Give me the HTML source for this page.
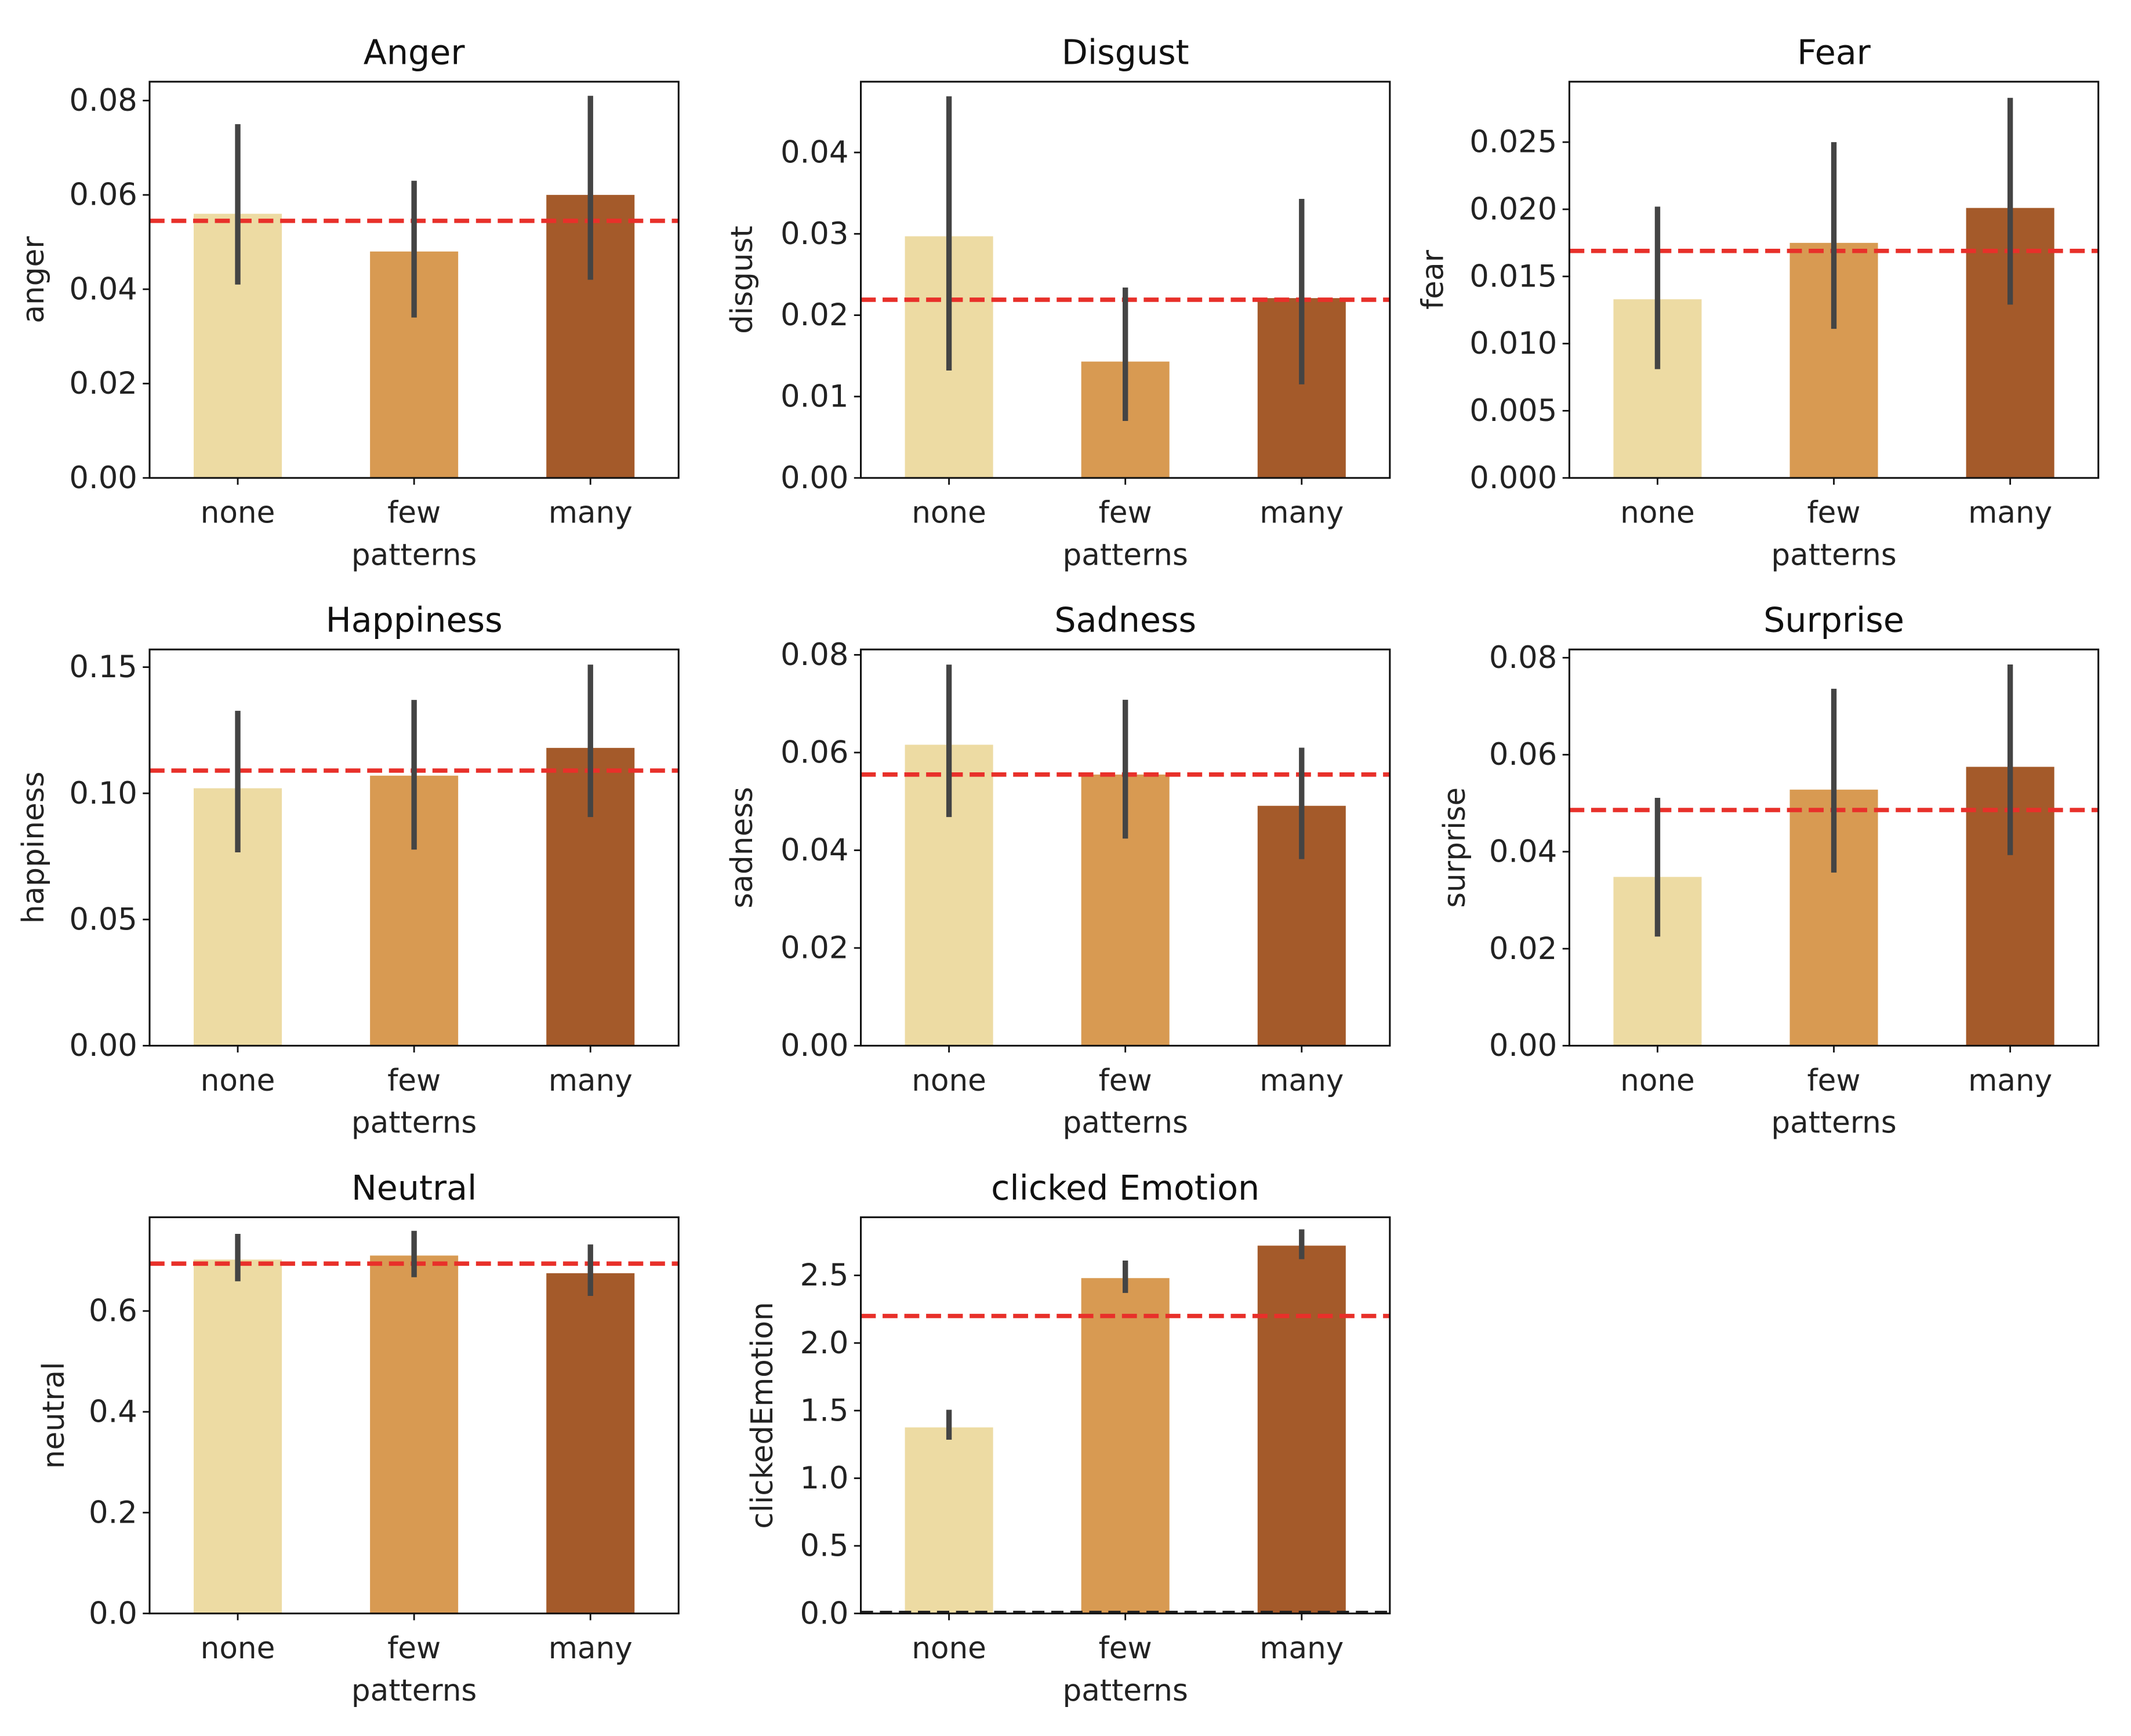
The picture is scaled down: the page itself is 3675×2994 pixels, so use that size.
<!DOCTYPE html>
<html><head><meta charset="utf-8"><style>
html,body{margin:0;padding:0;background:#fff;}
svg{display:block;font-family:"DejaVu Sans","Liberation Sans",sans-serif;}
</style></head><body>
<svg id="fig" width="3675" height="2994" viewBox="0 0 1567 1275" preserveAspectRatio="none" xmlns="http://www.w3.org/2000/svg"></svg>
<script>
const categories = ["none", "few", "many"];
const panelTitles = ["Anger", "Disgust", "Fear", "Happiness", "Sadness", "Surprise", "Neutral", "clicked Emotion"];
const yLabels = ["anger", "disgust", "fear", "happiness", "sadness", "surprise", "neutral", "clickedEmotion"];
const meanValues = [
  [0.056, 0.048, 0.060],
  [0.0297, 0.0143, 0.0221],
  [0.0133, 0.0175, 0.0201],
  [0.102, 0.107, 0.118],
  [0.0616, 0.0555, 0.0491],
  [0.0348, 0.0528, 0.0575],
  [0.702, 0.710, 0.675],
  [1.376, 2.48, 2.72]
];
const ciLow = [
  [0.041, 0.034, 0.042],
  [0.0132, 0.0070, 0.0115],
  [0.0081, 0.0111, 0.0129],
  [0.0766, 0.0777, 0.0906],
  [0.0468, 0.0424, 0.0382],
  [0.0225, 0.0357, 0.0393],
  [0.659, 0.667, 0.630],
  [1.285, 2.37, 2.62]
];
const ciHigh = [
  [0.075, 0.063, 0.081],
  [0.0469, 0.0234, 0.0343],
  [0.0202, 0.0250, 0.0283],
  [0.1327, 0.137, 0.151],
  [0.078, 0.0708, 0.061],
  [0.0511, 0.0736, 0.0786],
  [0.753, 0.759, 0.732],
  [1.506, 2.61, 2.84]
];
const refValues = [0.0545, 0.0219, 0.0169, 0.109, 0.0555, 0.0486, 0.694, 2.20];
const yMax = [0.084, 0.0487, 0.0295, 0.157, 0.0811, 0.0817, 0.786, 2.93];
const tickValues = [
  [0, 0.02, 0.04, 0.06, 0.08],
  [0, 0.01, 0.02, 0.03, 0.04],
  [0, 0.005, 0.01, 0.015, 0.02, 0.025],
  [0, 0.05, 0.10, 0.15],
  [0, 0.02, 0.04, 0.06, 0.08],
  [0, 0.02, 0.04, 0.06, 0.08],
  [0, 0.2, 0.4, 0.6],
  [0, 0.5, 1.0, 1.5, 2.0, 2.5]
];
const tickDecimals = [2, 2, 3, 2, 2, 2, 1, 1];
const barColors = ["#EDDBA3", "#D89A52", "#A45A2A"];

const NS = "http://www.w3.org/2000/svg";
const svg = document.getElementById("fig");
function mk(tag, attrs, parent, text) {
  const e = document.createElementNS(NS, tag);
  for (const k in attrs) e.setAttribute(k, attrs[k]);
  if (text !== undefined) e.textContent = text;
  (parent || svg).appendChild(e);
  return e;
}
const colX = [110, 633, 1154];
const rowY = [60, 477, 894];
const W = 389, H = 291;
const yLabelX = [25, 546, 1054, 25, 546, 1070, 40, 561];

panelTitles.forEach((title, p) => {
  const x0 = colX[p % 3], y0 = rowY[Math.floor(p / 3)];
  const g = mk("g", {});
  
  
  const xs = i => x0 + (i + 0.5) * W / 3;
  const ys = v => y0 + H - v / yMax[p] * H;
  const bw = W / 3 * 0.5;
  categories.forEach((c, i) => {
    const r = mk("rect", {x: xs(i) - bw / 2, y: ys(meanValues[p][i]), width: bw, height: ys(0) - ys(meanValues[p][i]), fill: barColors[i]}, g);
    
    
  });
  const ref = mk("line", {x1: x0, x2: x0 + W, y1: ys(refValues[p]), y2: ys(refValues[p]), stroke: "#E8302A", "stroke-width": 3.2, "stroke-dasharray": "11 5"}, g);
  
  
  if (p === 7) {
    const z = mk("line", {x1: x0, x2: x0 + W, y1: ys(0) - 1, y2: ys(0) - 1, stroke: "#222", "stroke-width": 2, "stroke-dasharray": "9 5"}, g);
    
    
  }
  categories.forEach((c, i) => {
    const e = mk("line", {x1: xs(i), x2: xs(i), y1: ys(ciLow[p][i]), y2: ys(ciHigh[p][i]), stroke: "#444", "stroke-width": 4}, g);
    
    
  });
  const fr = mk("rect", {x: x0, y: y0, width: W, height: H, fill: "none", stroke: "#111", "stroke-width": 1.3}, g);
  
  
  tickValues[p].forEach(t => {
    const y = ys(t);
    mk("line", {x1: x0 - 5, x2: x0, y1: y, y2: y, stroke: "#111", "stroke-width": 1.2}, g);
    const tl = mk("text", {x: x0 - 9, y: y + 7.5, "text-anchor": "end", "font-size": 22.5, fill: "#222"}, g, t.toFixed(tickDecimals[p]));
    
    
  });
  categories.forEach((c, i) => {
    mk("line", {x1: xs(i), x2: xs(i), y1: y0 + H, y2: y0 + H + 5, stroke: "#111", "stroke-width": 1.2}, g);
    const tl = mk("text", {x: xs(i), y: y0 + H + 33, "text-anchor": "middle", "font-size": 22, fill: "#222"}, g, c);
    
    
  });
  const xl = mk("text", {x: x0 + W / 2, y: y0 + H + 64, "text-anchor": "middle", "font-size": 22, fill: "#222"}, g, "patterns");
  
  
  const yx = yLabelX[p], yy = y0 + H / 2;
  const yl = mk("text", {x: yx, y: yy, "text-anchor": "middle", "font-size": 22, fill: "#222", transform: "rotate(-90 " + yx + " " + yy + ")", dy: 7}, g, yLabels[p]);
  
  
  const tt = mk("text", {x: x0 + W / 2, y: y0 - 13, "text-anchor": "middle", "font-size": 25, fill: "#111"}, g, title);
  
  
});
</script>
</body></html>
